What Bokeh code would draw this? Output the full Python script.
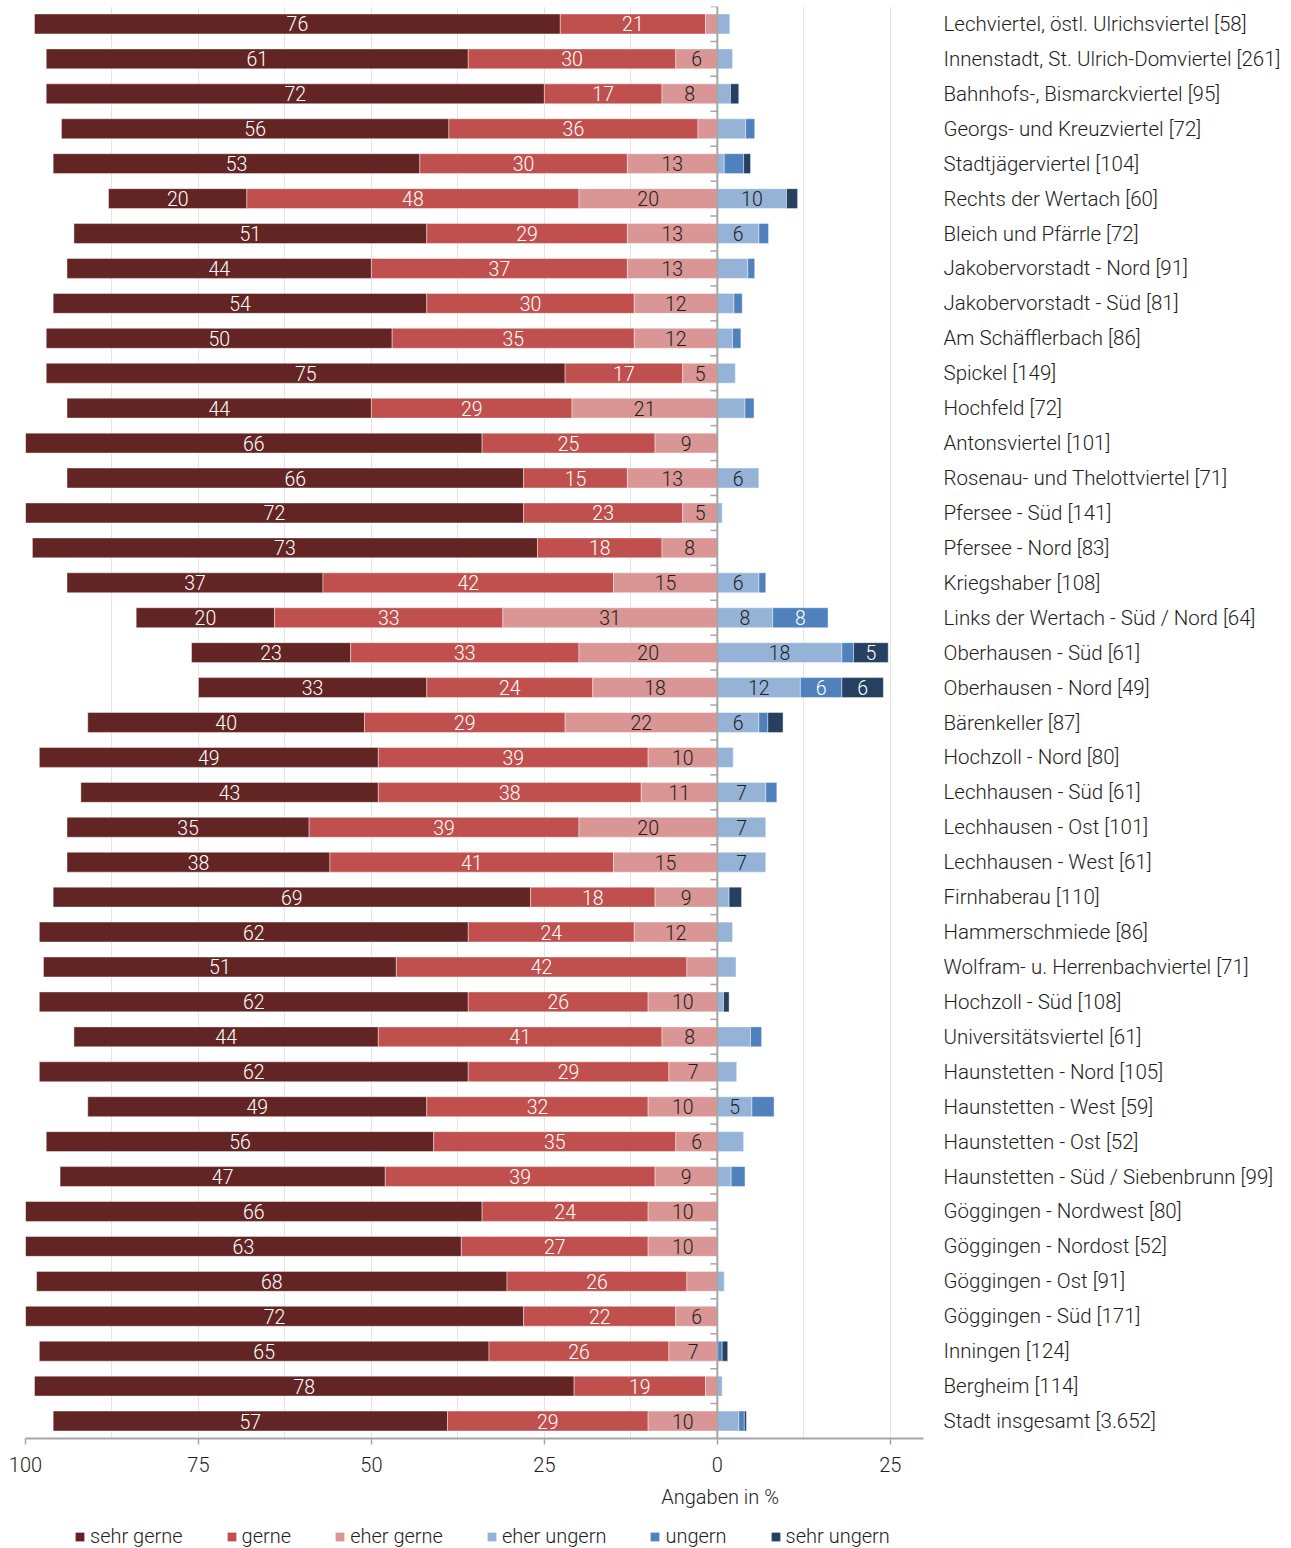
from bokeh.plotting import figure
from bokeh.layouts import column
from bokeh.models import (ColumnDataSource, FactorRange, Range1d, FixedTicker,
                          CustomJSTickFormatter, Span, Legend, LegendItem, Label)
from bokeh.embed import file_html
from bokeh.resources import INLINE
from bokeh.core.properties import value

categories = [
    "Lechviertel, östl. Ulrichsviertel [58]",
    "Innenstadt, St. Ulrich-Domviertel [261]",
    "Bahnhofs-, Bismarckviertel [95]",
    "Georgs- und Kreuzviertel [72]",
    "Stadtjägerviertel [104]",
    "Rechts der Wertach [60]",
    "Bleich und Pfärrle [72]",
    "Jakobervorstadt - Nord [91]",
    "Jakobervorstadt - Süd [81]",
    "Am Schäfflerbach [86]",
    "Spickel [149]",
    "Hochfeld [72]",
    "Antonsviertel [101]",
    "Rosenau- und Thelottviertel [71]",
    "Pfersee - Süd [141]",
    "Pfersee - Nord [83]",
    "Kriegshaber [108]",
    "Links der Wertach - Süd / Nord [64]",
    "Oberhausen - Süd [61]",
    "Oberhausen - Nord [49]",
    "Bärenkeller [87]",
    "Hochzoll - Nord [80]",
    "Lechhausen - Süd [61]",
    "Lechhausen - Ost [101]",
    "Lechhausen - West [61]",
    "Firnhaberau [110]",
    "Hammerschmiede [86]",
    "Wolfram- u. Herrenbachviertel [71]",
    "Hochzoll - Süd [108]",
    "Universitätsviertel [61]",
    "Haunstetten - Nord [105]",
    "Haunstetten - West [59]",
    "Haunstetten - Ost [52]",
    "Haunstetten - Süd / Siebenbrunn [99]",
    "Göggingen - Nordwest [80]",
    "Göggingen - Nordost [52]",
    "Göggingen - Ost [91]",
    "Göggingen - Süd [171]",
    "Inningen [124]",
    "Bergheim [114]",
    "Stadt insgesamt [3.652]",
]

indented = [
    "Am Schäfflerbach [86]", "Spickel [149]", "Hochfeld [72]", "Antonsviertel [101]",
    "Rosenau- und Thelottviertel [71]", "Pfersee - Süd [141]", "Pfersee - Nord [83]",
    "Kriegshaber [108]", "Links der Wertach - Süd / Nord [64]", "Oberhausen - Süd [61]",
    "Oberhausen - Nord [49]", "Bärenkeller [87]", "Hochzoll - Nord [80]",
    "Lechhausen - Süd [61]", "Lechhausen - Ost [101]", "Lechhausen - West [61]",
    "Firnhaberau [110]", "Hammerschmiede [86]", "Wolfram- u. Herrenbachviertel [71]",
    "Hochzoll - Süd [108]", "Universitätsviertel [61]", "Haunstetten - Nord [105]",
    "Haunstetten - West [59]", "Haunstetten - Ost [52]", "Inningen [124]",
]

sehr_gerne = [76, 61, 72, 56, 53, 20, 51, 44, 54, 50, 75, 44, 66, 66, 72, 73, 37, 20, 23, 33,
              40, 49, 43, 35, 38, 69, 62, 51, 62, 44, 62, 49, 56, 47, 66, 63, 68, 72, 65, 78, 57]
gerne = [21, 30, 17, 36, 30, 48, 29, 37, 30, 35, 17, 29, 25, 15, 23, 18, 42, 33, 33, 24,
         29, 39, 38, 39, 41, 18, 24, 42, 26, 41, 29, 32, 35, 39, 24, 27, 26, 22, 26, 19, 29]
eher_gerne = [1.7, 6, 8, 2.8, 13, 20, 13, 13, 12, 12, 5, 21, 9, 13, 5, 8, 15, 31, 20, 18,
              22, 10, 11, 20, 15, 9, 12, 4.4, 10, 8, 7, 10, 6, 9, 10, 10, 4.4, 6, 7, 1.7, 10]
eher_ungern = [1.8, 2.2, 1.9, 4.1, 1.0, 10, 6, 4.4, 2.4, 2.2, 2.6, 4.0, 0, 6, 0.7, 0, 6, 8, 18, 12,
               6, 2.3, 7, 7, 7, 1.7, 2.2, 2.7, 0.9, 4.8, 2.8, 5, 3.8, 2.0, 0, 0, 1.0, 0, 0, 0.7, 3.1]
ungern = [0, 0, 0, 1.3, 2.8, 0, 1.4, 1.0, 1.2, 1.2, 0, 1.3, 0, 0, 0, 0, 1.0, 8, 1.7, 6,
          1.3, 0, 1.6, 0, 0, 0, 0, 0, 0, 1.6, 0, 3.2, 0, 2.0, 0, 0, 0, 0, 0.7, 0, 0.8]
sehr_ungern = [0, 0, 1.2, 0, 1.0, 1.6, 0, 0, 0, 0, 0, 0, 0, 0, 0, 0, 0, 0, 5, 6,
               2.2, 0, 0, 0, 0, 1.8, 0, 0, 0.8, 0, 0, 0, 0, 0, 0, 0, 0, 0, 0.8, 0, 0.3]

x_ticks = [-100, -75, -50, -25, 0, 25]
grid_ticks = [-100, -87.5, -75, -62.5, -50, -37.5, -25, -12.5, 0, 12.5, 25]

FONT = "'Roboto Light', Roboto, sans-serif"
TXT = "#1e1e1e"

yr = FactorRange(factors=list(reversed(categories)))
xr = Range1d(-100, 29.8)

p = figure(
    y_range=yr, x_range=xr,
    frame_width=898, frame_height=1432,
    y_axis_location="right",
    toolbar_location=None, output_backend="svg",
    min_border_left=25, min_border_right=0, min_border_top=6, min_border_bottom=44,
    background_fill_color="white", border_fill_color="white",
)
p.outline_line_color = None

series = [
    ("sehr gerne", sehr_gerne, "#632523", "white", -1),
    ("gerne", gerne, "#C0504D", "white", -1),
    ("eher gerne", eher_gerne, "#D99694", TXT, -1),
    ("eher ungern", eher_ungern, "#95B3D7", TXT, 1),
    ("ungern", ungern, "#4F81BD", "white", 1),
    ("sehr ungern", sehr_ungern, "#254061", "white", 1),
]

n = len(categories)
neg_order = [2, 1, 0]
pos_order = [3, 4, 5]
lefts = {}
rights = {}
for order in (neg_order, pos_order):
    acc = [0.0] * n
    for k in order:
        name, vals, color, tcol, sign = series[k]
        if sign < 0:
            r = [-a for a in acc]
            l = [-(a + v) for a, v in zip(acc, vals)]
        else:
            l = list(acc)
            r = [a + v for a, v in zip(acc, vals)]
        lefts[k], rights[k] = l, r
        acc = [a + v for a, v in zip(acc, vals)]

sources = []
lab_x, lab_y, lab_t, lab_c = [], [], [], []
for k, (name, vals, color, tcol, sign) in enumerate(series):
    idx = [i for i in range(n) if vals[i] > 0]
    src = ColumnDataSource(dict(
        y=[categories[i] for i in idx],
        left=[lefts[k][i] for i in idx],
        right=[rights[k][i] for i in idx],
    ))
    sources.append(src)
    p.hbar(y="y", left="left", right="right", height=0.57, source=src,
           fill_color=color, line_color="white", line_width=0.6, line_alpha=0.7)
    for i in idx:
        if vals[i] >= 5:
            lab_x.append((lefts[k][i] + rights[k][i]) / 2)
            lab_y.append(categories[i])
            lab_t.append(str(int(round(vals[i]))))
            lab_c.append(tcol)

lab_src = ColumnDataSource(dict(x=lab_x, y=lab_y, t=lab_t, c=lab_c))
p.text(x="x", y="y", text="t", text_color="c", source=lab_src,
       text_align="center", text_baseline="middle",
       text_font=value(FONT), text_font_size="19.5px")

# zero line with category ticks
p.add_layout(Span(location=0, dimension="height", line_color="#a6a6a6", line_width=2))
bounds = list(range(n + 1))
tick_src = ColumnDataSource(dict(y=bounds, x0=[-1.0] * len(bounds), x1=[0] * len(bounds)))
p.segment(x0="x0", x1="x1", y0="y", y1="y", source=tick_src,
          line_color="#a6a6a6", line_width=1.5)

# grid
p.ygrid.grid_line_color = None
p.xgrid.ticker = FixedTicker(ticks=grid_ticks)
p.xgrid.grid_line_color = "#e4e4e4"
p.xgrid.grid_line_width = 1

# x axis
xa = p.xaxis[0]
xa.ticker = FixedTicker(ticks=x_ticks)
xa.formatter = CustomJSTickFormatter(code="return Math.abs(tick).toString();")
xa.axis_line_color = "#a6a6a6"
xa.axis_line_width = 2
xa.major_tick_line_color = "#a6a6a6"
xa.major_tick_line_width = 1.5
xa.major_tick_out = 6
xa.major_tick_in = 0
xa.minor_tick_line_color = None
xa.major_label_standoff = 12
xa.major_label_text_font = FONT
xa.major_label_text_font_size = "20px"
xa.major_label_text_color = TXT

# category axis on the right
ya = p.yaxis[0]
ya.axis_line_color = None
ya.major_tick_line_color = None
ya.major_tick_out = 0
ya.major_tick_in = 0
ya.minor_tick_line_color = None
ya.major_label_standoff = 20
ya.major_label_text_font = FONT
ya.major_label_text_font_size = "20.5px"
ya.major_label_text_color = TXT
ya.major_label_text_align = "left"
ya.major_label_overrides = {c: "\u00a0" + c for c in indented}

# bottom strip: axis title and legend (shares the main plot's ranges)
p2 = figure(
    x_range=xr, y_range=yr,
    frame_width=898, frame_height=66,
    x_axis_location=None, y_axis_location=None,
    toolbar_location=None, output_backend="svg",
    min_border_left=25, min_border_right=0, min_border_top=0, min_border_bottom=0,
    background_fill_color="white", border_fill_color="white",
)
p2.outline_line_color = None
p2.grid.visible = False

p2.add_layout(Label(x=0.4, y=52, x_units="data", y_units="screen", text="Angaben in %",
                    text_align="center", text_baseline="middle",
                    text_font=FONT, text_font_size="20px", text_color=TXT))

legend_items = []
for (name, vals, color, tcol, sign), src in zip(series, sources):
    r = p2.hbar(y="y", left="left", right="right", height=0.57, source=src,
                fill_color=color, line_color=None, visible=False)
    legend_items.append(LegendItem(label=name, renderers=[r]))

legend = Legend(items=legend_items, orientation="horizontal", location=(49, 0),
                glyph_width=11, glyph_height=11, label_standoff=5, spacing=43,
                padding=0, margin=0, border_line_alpha=0, background_fill_alpha=0,
                inactive_fill_alpha=0,
                label_text_font=FONT, label_text_font_size="20px", label_text_color=TXT)
p2.add_layout(legend)

open("out.html", "w").write(file_html(column(p, p2), INLINE))
